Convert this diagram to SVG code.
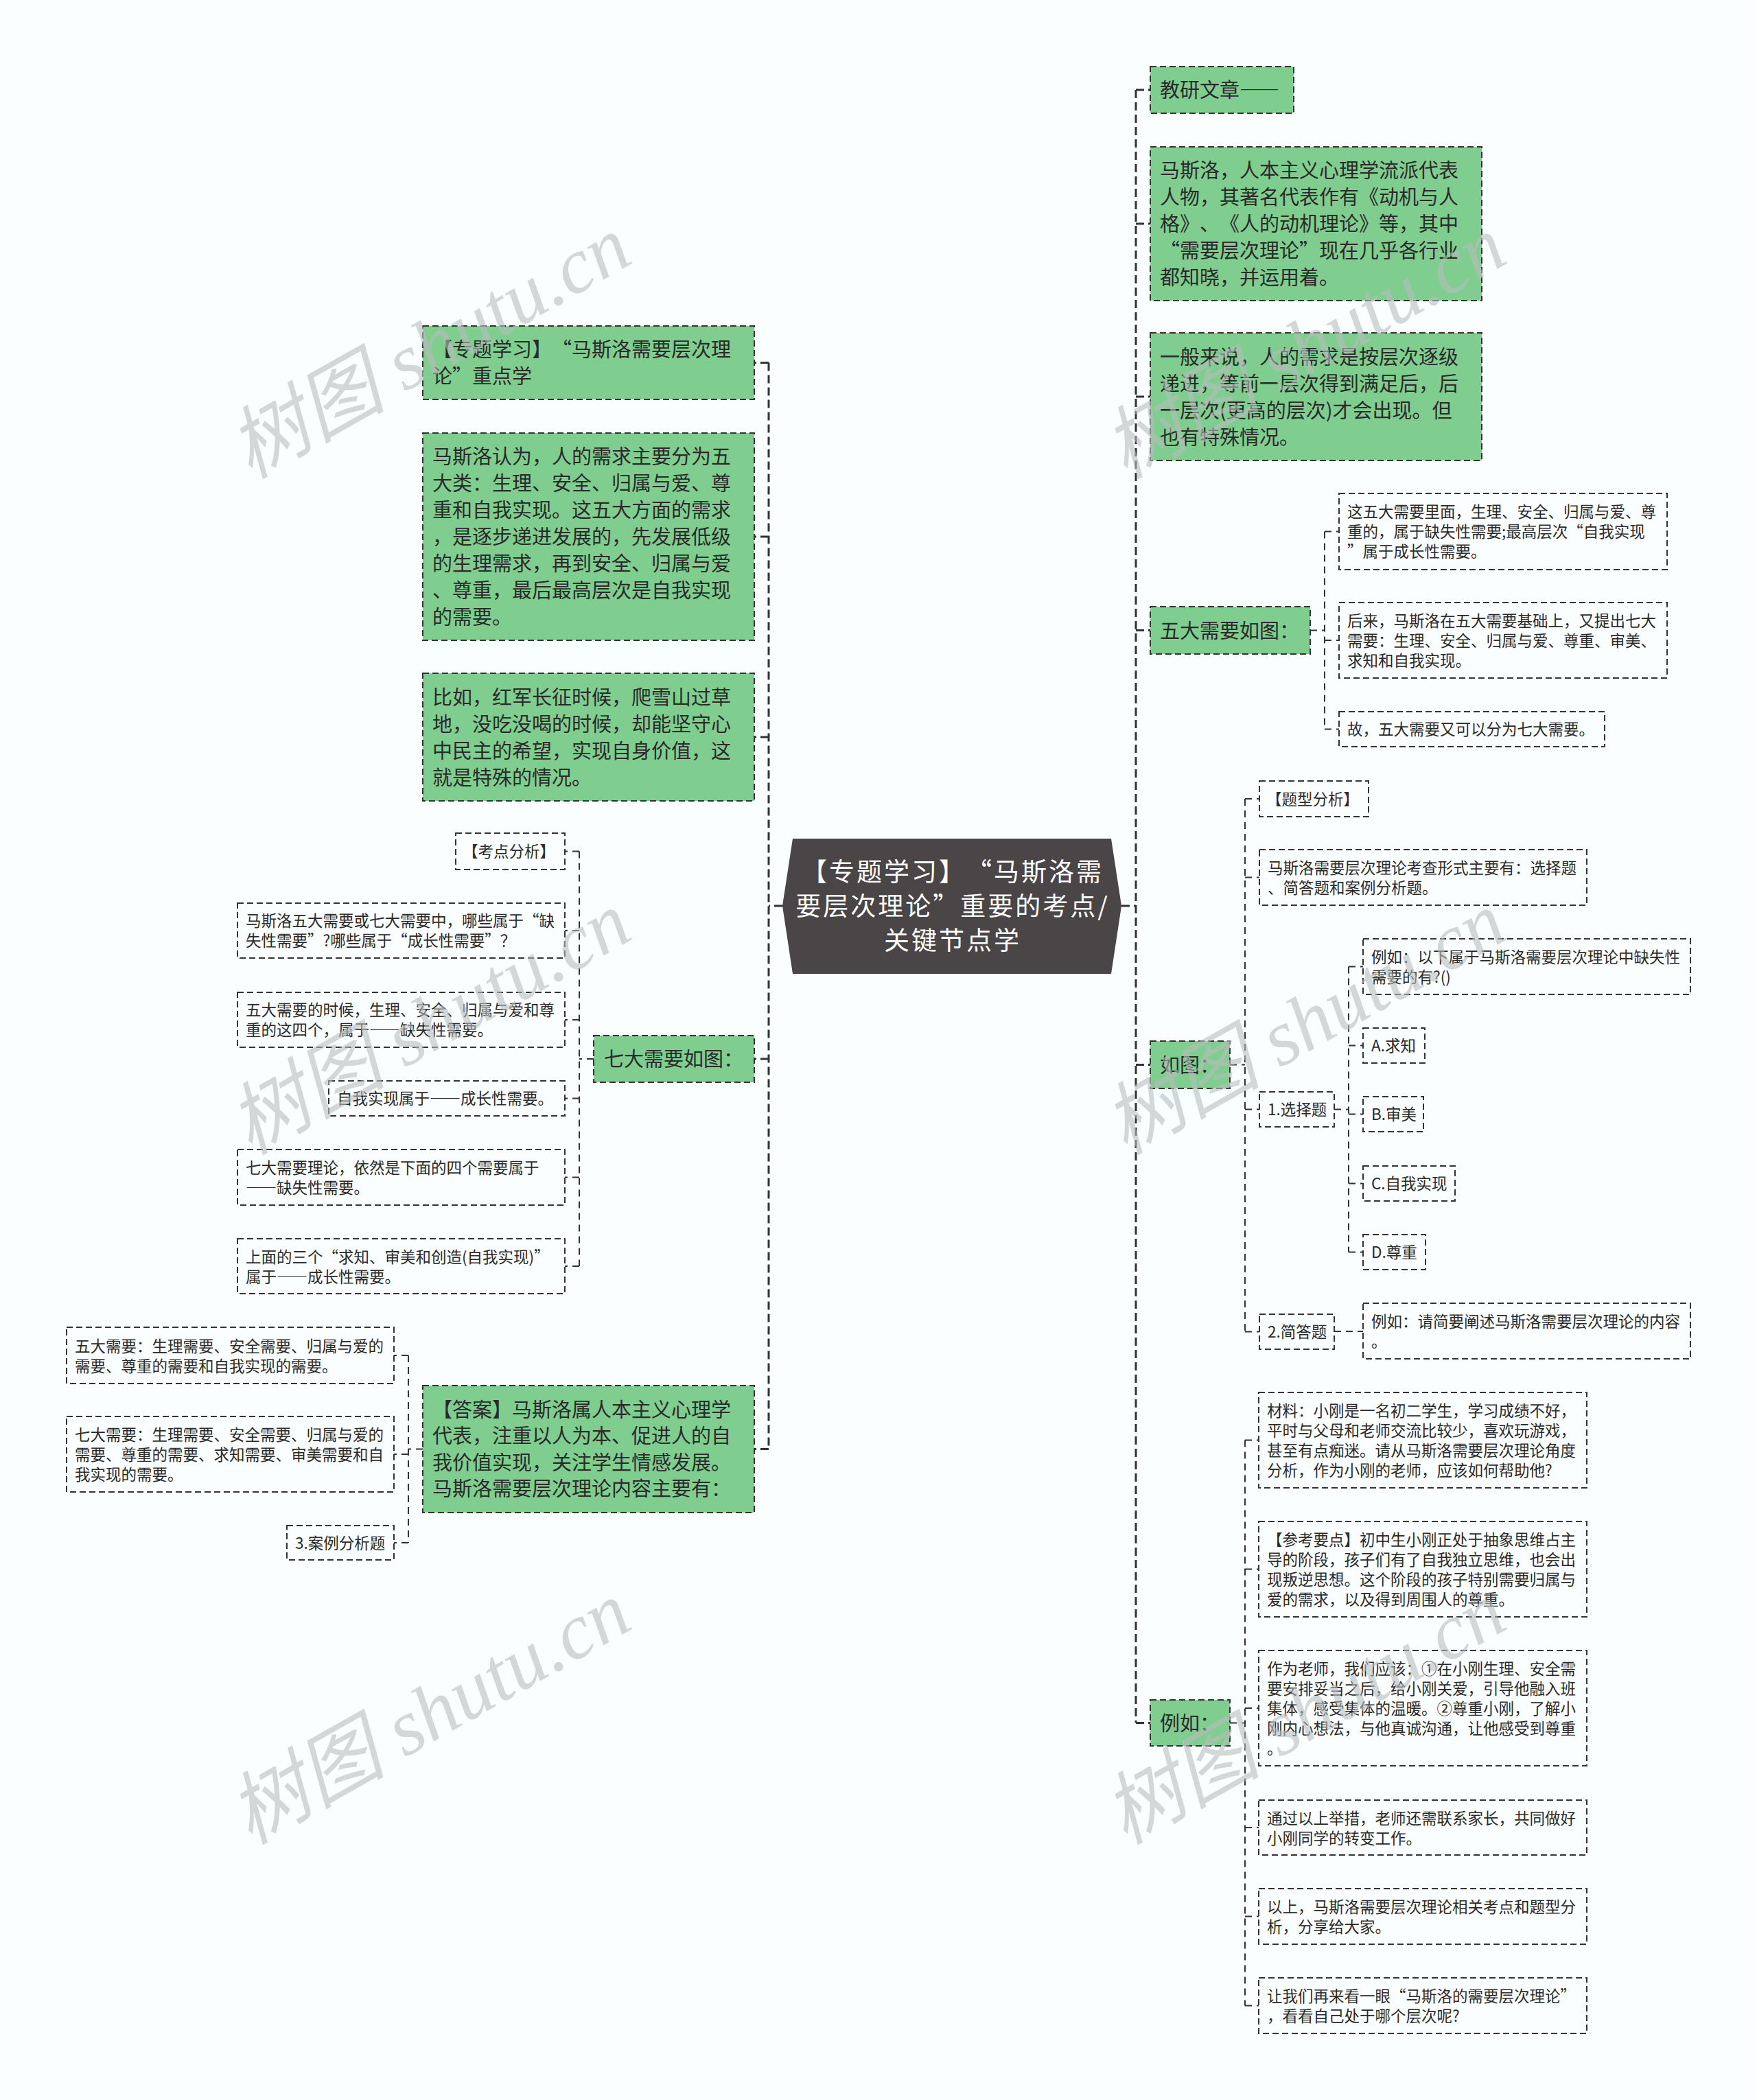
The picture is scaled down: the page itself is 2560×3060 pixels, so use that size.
<svg xmlns="http://www.w3.org/2000/svg" width="2560" height="3060" viewBox="0 0 2560 3060">
<style>
text{font-family:"Noto Sans CJK SC","Noto Sans",sans-serif;fill:#2a2a2a;text-spacing-trim:space-all}
.g{fill:#7fcd8f;stroke:#333;stroke-width:2;stroke-dasharray:9 5}
.w{fill:none;stroke:#333;stroke-width:2;stroke-dasharray:9 5}
.t{font-size:29px}
.s{font-size:22.5px}
.d{font-feature-settings:"fwid" 1}
.ctr{font-size:37px;letter-spacing:3px;fill:#fff;text-anchor:middle}
.trunk{fill:none;stroke:#333;stroke-width:3;stroke-dasharray:12 6}
.bus{fill:none;stroke:#333;stroke-width:2;stroke-dasharray:10 7}
.wm{font-family:"Liberation Serif","Noto Sans CJK SC",serif;font-style:italic;font-size:115px;fill:#b8bcbc;fill-opacity:0.6;text-anchor:middle}
</style>
<rect width="2560" height="3060" fill="#fbfefe"/>

<g id="connectors">
<path class="trunk" d="M1140 1320 H1120 M1120 528.5 V2111.5 M1120 528.5 H1099 M1120 782 H1099 M1120 1074 H1099 M1120 1543 H1099 M1120 2111.5 H1099"/>
<path class="trunk" d="M1634 1320 H1655 M1655 131 V2510.5 M1655 131 H1676 M1655 326 H1676 M1655 578 H1676 M1655 918.5 H1676 M1655 1551.5 H1676 M1655 2510.5 H1676"/>
<path class="bus" d="M865 1543 H844 M844 1240.5 V1845 M844 1240.5 H823 M844 1356 H823 M844 1486 H823 M844 1600.5 H823 M844 1715.5 H823 M844 1845 H823"/>
<path class="bus" d="M616 2111.5 H595 M595 1975 V2248 M595 1975 H574 M595 2119 H574 M595 2248 H574"/>
<path class="bus" d="M1909 918.5 H1930 M1930 774.5 V1062.5 M1930 774.5 H1951 M1930 933 H1951 M1930 1062.5 H1951"/>
<path class="bus" d="M1792 1551.5 H1814 M1814 1164 V1940.5 M1814 1164 H1835 M1814 1278.5 H1835 M1814 1616.5 H1835 M1814 1940.5 H1835"/>
<path class="bus" d="M1944 1616.5 H1965 M1965 1408.5 V1824.5 M1965 1408.5 H1986 M1965 1523.5 H1986 M1965 1623.5 H1986 M1965 1724.5 H1986 M1965 1824.5 H1986"/>
<path class="bus" d="M1944 1940 H1986"/>
<path class="bus" d="M1792 2510.5 H1814 M1814 2098.5 V2922.5 M1814 2098.5 H1834 M1814 2286.5 H1834 M1814 2489 H1834 M1814 2663 H1834 M1814 2792.5 H1834 M1814 2922.5 H1834"/>
</g>

<g id="center">
<polygon points="1155,1222 1619,1222 1634,1320 1619,1419 1155,1419 1140,1320" fill="#4a4547"/>
<text class="ctr"><tspan x="1388" y="1284">【专题学习】“马斯洛需</tspan><tspan x="1388" y="1334">要层次理论”重要的考点/</tspan><tspan x="1388" y="1384">关键节点学</tspan></text>
</g>

<g id="L1"><rect class="g" x="616" y="475" width="483" height="107"/>
<text class="t"><tspan x="630" y="520">【专题学习】“马斯洛需要层次理</tspan><tspan x="630" y="559">论”重点学</tspan></text></g>

<g id="L2"><rect class="g" x="616" y="631" width="483" height="302"/>
<text class="t"><tspan x="630" y="676">马斯洛认为，人的需求主要分为五</tspan><tspan x="630" y="715">大类：生理、安全、归属与爱、尊</tspan><tspan x="630" y="754">重和自我实现。这五大方面的需求</tspan><tspan x="630" y="793">，是逐步递进发展的，先发展低级</tspan><tspan x="630" y="832">的生理需求，再到安全、归属与爱</tspan><tspan x="630" y="871">、尊重，最后最高层次是自我实现</tspan><tspan x="630" y="910">的需要。</tspan></text></g>

<g id="L3"><rect class="g" x="616" y="981" width="483" height="186"/>
<text class="t"><tspan x="630" y="1026.5">比如，红军长征时候，爬雪山过草</tspan><tspan x="630" y="1065.5">地，没吃没喝的时候，却能坚守心</tspan><tspan x="630" y="1104.5">中民主的希望，实现自身价值，这</tspan><tspan x="630" y="1143.5">就是特殊的情况。</tspan></text></g>

<g id="L4"><rect class="g" x="865" y="1509" width="234" height="68"/>
<text class="t" x="880" y="1554">七大需要如图：</text></g>

<g id="L4a"><rect class="w" x="664" y="1214" width="159" height="53"/>
<text class="s" x="674" y="1249">【考点分析】</text></g>
<g id="L4b"><rect class="w" x="346" y="1316" width="477" height="80"/>
<text class="s"><tspan x="358" y="1350">马斯洛五大需要或七大需要中，哪些属于“缺</tspan><tspan x="358" y="1379">失性需要”?哪些属于“成长性需要”？</tspan></text></g>
<g id="L4c"><rect class="w" x="346" y="1446" width="477" height="80"/>
<text class="s"><tspan x="358" y="1480">五大需要的时候，生理、安全、归属与爱和尊</tspan><tspan x="358" y="1509">重的这四个，属于<tspan class="d">——</tspan>缺失性需要。</tspan></text></g>
<g id="L4d"><rect class="w" x="479" y="1575" width="344" height="51"/>
<text class="s" x="491" y="1609">自我实现属于<tspan class="d">——</tspan>成长性需要。</text></g>
<g id="L4e"><rect class="w" x="346" y="1675" width="477" height="81"/>
<text class="s"><tspan x="358" y="1710">七大需要理论，依然是下面的四个需要属于</tspan><tspan x="358" y="1739"><tspan class="d">——</tspan>缺失性需要。</tspan></text></g>
<g id="L4f"><rect class="w" x="346" y="1805" width="477" height="80"/>
<text class="s"><tspan x="358" y="1839.5">上面的三个“求知、审美和创造(自我实现)”</tspan><tspan x="358" y="1868.5">属于<tspan class="d">——</tspan>成长性需要。</tspan></text></g>

<g id="L5"><rect class="g" x="616" y="2019" width="483" height="185"/>
<text class="t"><tspan x="630" y="2064.5">【答案】马斯洛属人本主义心理学</tspan><tspan x="630" y="2103">代表，注重以人为本、促进人的自</tspan><tspan x="630" y="2141.5">我价值实现，关注学生情感发展。</tspan><tspan x="630" y="2180">马斯洛需要层次理论内容主要有：</tspan></text></g>

<g id="L5a"><rect class="w" x="97" y="1934" width="477" height="82"/>
<text class="s"><tspan x="109" y="1969.5">五大需要：生理需要、安全需要、归属与爱的</tspan><tspan x="109" y="1998.5">需要、尊重的需要和自我实现的需要。</tspan></text></g>
<g id="L5b"><rect class="w" x="97" y="2064" width="477" height="110"/>
<text class="s"><tspan x="109" y="2098.5">七大需要：生理需要、安全需要、归属与爱的</tspan><tspan x="109" y="2127.5">需要、尊重的需要、求知需要、审美需要和自</tspan><tspan x="109" y="2156.5">我实现的需要。</tspan></text></g>
<g id="L5c"><rect class="w" x="418" y="2223" width="156" height="50"/>
<text class="s" x="430" y="2256.5">3.案例分析题</text></g>

<g id="R1"><rect class="g" x="1676" y="97" width="209" height="68"/>
<text class="t" x="1690" y="142">教研文章<tspan class="d">——</tspan></text></g>

<g id="R2"><rect class="g" x="1676" y="214" width="483" height="224"/>
<text class="t"><tspan x="1690" y="259">马斯洛，人本主义心理学流派代表</tspan><tspan x="1690" y="298">人物，其著名代表作有《动机与人</tspan><tspan x="1690" y="337">格》、《人的动机理论》等，其中</tspan><tspan x="1690" y="376">“需要层次理论”现在几乎各行业</tspan><tspan x="1690" y="415">都知晓，并运用着。</tspan></text></g>

<g id="R3"><rect class="g" x="1676" y="485" width="483" height="186"/>
<text class="t"><tspan x="1690" y="530.5">一般来说，人的需求是按层次逐级</tspan><tspan x="1690" y="569.5">递进，等前一层次得到满足后，后</tspan><tspan x="1690" y="608.5">一层次(更高的层次)才会出现。但</tspan><tspan x="1690" y="647.5">也有特殊情况。</tspan></text></g>

<g id="R4"><rect class="g" x="1676" y="884" width="233" height="69"/>
<text class="t" x="1690" y="929.5">五大需要如图：</text></g>
<g id="R4a"><rect class="w" x="1951" y="719" width="478" height="111"/>
<text class="s"><tspan x="1963" y="754">这五大需要里面，生理、安全、归属与爱、尊</tspan><tspan x="1963" y="783">重的，属于缺失性需要;最高层次“自我实现</tspan><tspan x="1963" y="812">”属于成长性需要。</tspan></text></g>
<g id="R4b"><rect class="w" x="1951" y="878" width="478" height="110"/>
<text class="s"><tspan x="1963" y="912.5">后来，马斯洛在五大需要基础上，又提出七大</tspan><tspan x="1963" y="941.5">需要：生理、安全、归属与爱、尊重、审美、</tspan><tspan x="1963" y="970.5">求知和自我实现。</tspan></text></g>
<g id="R4c"><rect class="w" x="1951" y="1037" width="387" height="51"/>
<text class="s" x="1963" y="1071">故，五大需要又可以分为七大需要。</text></g>

<g id="R5"><rect class="g" x="1676" y="1517" width="116" height="69"/>
<text class="t" x="1690" y="1562.5">如图：</text></g>
<g id="R5a"><rect class="w" x="1835" y="1138" width="159" height="52"/>
<text class="s" x="1845" y="1172.5">【题型分析】</text></g>
<g id="R5b"><rect class="w" x="1835" y="1238" width="477" height="81"/>
<text class="s"><tspan x="1847" y="1273">马斯洛需要层次理论考查形式主要有：选择题</tspan><tspan x="1847" y="1302">、简答题和案例分析题。</tspan></text></g>
<g id="R5c"><rect class="w" x="1835" y="1591" width="109" height="51"/>
<text class="s" x="1847" y="1625">1.选择题</text></g>
<g id="R5c1"><rect class="w" x="1986" y="1368" width="477" height="81"/>
<text class="s"><tspan x="1998" y="1403">例如：以下属于马斯洛需要层次理论中缺失性</tspan><tspan x="1998" y="1432">需要的有?()</tspan></text></g>
<g id="R5c2"><rect class="w" x="1986" y="1498" width="90" height="51"/>
<text class="s" x="1998" y="1532">A.求知</text></g>
<g id="R5c3"><rect class="w" x="1986" y="1598" width="88" height="51"/>
<text class="s" x="1998" y="1632">B.审美</text></g>
<g id="R5c4"><rect class="w" x="1986" y="1699" width="134" height="51"/>
<text class="s" x="1998" y="1733">C.自我实现</text></g>
<g id="R5c5"><rect class="w" x="1986" y="1799" width="91" height="51"/>
<text class="s" x="1998" y="1833">D.尊重</text></g>
<g id="R5d"><rect class="w" x="1835" y="1915" width="109" height="51"/>
<text class="s" x="1847" y="1949">2.简答题</text></g>
<g id="R5d1"><rect class="w" x="1986" y="1899" width="477" height="81"/>
<text class="s"><tspan x="1998" y="1934">例如：请简要阐述马斯洛需要层次理论的内容</tspan><tspan x="1998" y="1963">。</tspan></text></g>

<g id="R6"><rect class="g" x="1676" y="2477" width="116" height="67"/>
<text class="t" x="1690" y="2521.5">例如：</text></g>
<g id="R6a"><rect class="w" x="1834" y="2029" width="478" height="139"/>
<text class="s"><tspan x="1846" y="2063.5">材料：小刚是一名初二学生，学习成绩不好，</tspan><tspan x="1846" y="2092.5">平时与父母和老师交流比较少，喜欢玩游戏，</tspan><tspan x="1846" y="2121.5">甚至有点痴迷。请从马斯洛需要层次理论角度</tspan><tspan x="1846" y="2150.5">分析，作为小刚的老师，应该如何帮助他?</tspan></text></g>
<g id="R6b"><rect class="w" x="1834" y="2217" width="478" height="139"/>
<text class="s"><tspan x="1846" y="2251.5">【参考要点】初中生小刚正处于抽象思维占主</tspan><tspan x="1846" y="2280.5">导的阶段，孩子们有了自我独立思维，也会出</tspan><tspan x="1846" y="2309.5">现叛逆思想。这个阶段的孩子特别需要归属与</tspan><tspan x="1846" y="2338.5">爱的需求，以及得到周围人的尊重。</tspan></text></g>
<g id="R6c"><rect class="w" x="1834" y="2405" width="478" height="168"/>
<text class="s"><tspan x="1846" y="2439.5">作为老师，我们应该：①在小刚生理、安全需</tspan><tspan x="1846" y="2468.5">要安排妥当之后，给小刚关爱，引导他融入班</tspan><tspan x="1846" y="2497.5">集体，感受集体的温暖。②尊重小刚，了解小</tspan><tspan x="1846" y="2526.5">刚内心想法，与他真诚沟通，让他感受到尊重</tspan><tspan x="1846" y="2555.5">。</tspan></text></g>
<g id="R6d"><rect class="w" x="1834" y="2623" width="478" height="80"/>
<text class="s"><tspan x="1846" y="2657.5">通过以上举措，老师还需联系家长，共同做好</tspan><tspan x="1846" y="2686.5">小刚同学的转变工作。</tspan></text></g>
<g id="R6e"><rect class="w" x="1834" y="2752" width="478" height="81"/>
<text class="s"><tspan x="1846" y="2787">以上，马斯洛需要层次理论相关考点和题型分</tspan><tspan x="1846" y="2816">析，分享给大家。</tspan></text></g>
<g id="R6f"><rect class="w" x="1834" y="2882" width="478" height="81"/>
<text class="s"><tspan x="1846" y="2917">让我们再来看一眼“马斯洛的需要层次理论”</tspan><tspan x="1846" y="2946">，看看自己处于哪个层次呢?</tspan></text></g>

<g id="watermarks">
<text class="wm" transform="translate(645 540) rotate(-29.5)">树图 shutu.cn</text>
<text class="wm" transform="translate(645 1525) rotate(-29.5)">树图 shutu.cn</text>
<text class="wm" transform="translate(645 2530) rotate(-29.5)">树图 shutu.cn</text>
<text class="wm" transform="translate(1920 540) rotate(-29.5)">树图 shutu.cn</text>
<text class="wm" transform="translate(1920 1525) rotate(-29.5)">树图 shutu.cn</text>
<text class="wm" transform="translate(1920 2530) rotate(-29.5)">树图 shutu.cn</text>
</g>
</svg>
